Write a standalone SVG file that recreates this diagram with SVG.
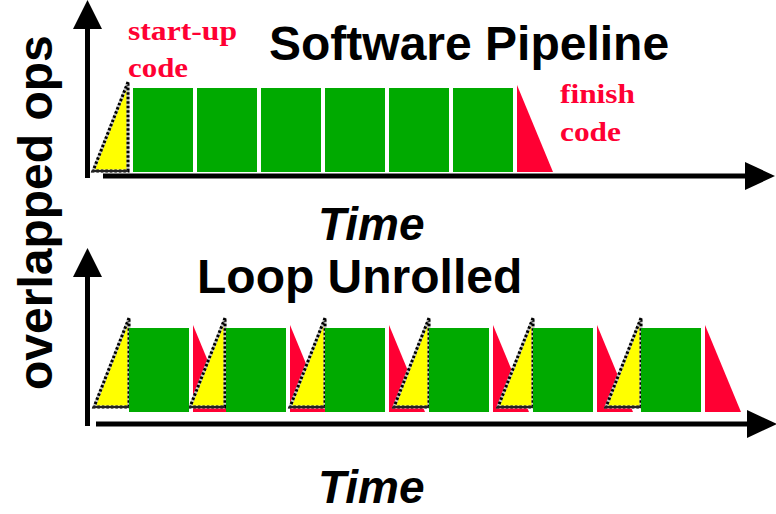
<svg xmlns="http://www.w3.org/2000/svg" width="776" height="514" viewBox="0 0 776 514">
<style>
.title{font-family:"Liberation Sans",Arial,sans-serif;font-weight:bold;font-size:48px;fill:#000}
.time{font-family:"Liberation Sans",Arial,sans-serif;font-weight:bold;font-style:italic;font-size:46px;fill:#000}
.lbl{font-family:"Liberation Serif","Times New Roman",serif;font-weight:bold;font-size:28px;fill:#FF0033}
.g{fill:#00AA00}
.r{fill:#FF0033}
.yb{fill:#FFFF00;stroke:#C8C8C8;stroke-width:3}
.yd{fill:none;stroke:#000;stroke-width:3;stroke-dasharray:2.5 2}
.base{stroke:#222;stroke-width:2}
.axis{stroke:#000;stroke-width:5;fill:none}
.head{fill:#000}
</style>
<defs>
<g id="ytri">
<polygon class="yb" points="0,0 -35,89 0,89"/>
<polygon class="yd" points="0,0 -35,89 0,89"/>
<line class="base" x1="-36" y1="89" x2="0" y2="89"/>
</g>
</defs>
<g id="connectors">
<line class="axis" x1="87.5" y1="178" x2="87.5" y2="25"/>
<polygon class="head" points="87.5,0 73,29 102,29"/>
<line class="axis" x1="103" y1="176" x2="748" y2="176"/>
<polygon class="head" points="775,176 745,162 745,190"/>
<line class="axis" x1="87.5" y1="426" x2="87.5" y2="272"/>
<polygon class="head" points="87.5,248 73,277 102,277"/>
<line class="axis" x1="96" y1="424" x2="750" y2="424"/>
<polygon class="head" points="777,424 747,410 747,438"/>
</g>
<g id="pipeline">
<use href="#ytri" x="128" y="82"/>
<rect class="g" x="133" y="88" width="60" height="84"/>
<rect class="g" x="197" y="88" width="60" height="84"/>
<rect class="g" x="261" y="88" width="60" height="84"/>
<rect class="g" x="325" y="88" width="60" height="84"/>
<rect class="g" x="389" y="88" width="60" height="84"/>
<rect class="g" x="453" y="88" width="60" height="84"/>
<polygon class="r" points="517,85 517,172 553,172"/>
</g>
<g id="unrolled">
<polygon class="r" points="193,325 193,412 229,412"/>
<polygon class="r" points="290,325 290,412 326,412"/>
<polygon class="r" points="389,325 389,412 425,412"/>
<polygon class="r" points="493,325 493,412 529,412"/>
<polygon class="r" points="597,325 597,412 633,412"/>
<polygon class="r" points="705,325 705,412 741,412"/>
<use href="#ytri" x="129" y="318"/>
<use href="#ytri" x="225" y="318"/>
<use href="#ytri" x="325" y="318"/>
<use href="#ytri" x="429" y="318"/>
<use href="#ytri" x="533" y="318"/>
<use href="#ytri" x="641" y="318"/>
<rect class="g" x="129" y="328" width="60" height="84"/>
<rect class="g" x="226" y="328" width="60" height="84"/>
<rect class="g" x="325" y="328" width="60" height="84"/>
<rect class="g" x="429" y="328" width="60" height="84"/>
<rect class="g" x="533" y="328" width="60" height="84"/>
<rect class="g" x="641" y="328" width="60" height="84"/>
</g>
<g id="labels">
<text class="lbl" x="128" y="40" textLength="109" lengthAdjust="spacingAndGlyphs">start-up</text>
<text class="lbl" x="128" y="77" textLength="60" lengthAdjust="spacingAndGlyphs">code</text>
<text class="lbl" x="560" y="103" textLength="75" lengthAdjust="spacingAndGlyphs">finish</text>
<text class="lbl" x="560" y="141" textLength="61" lengthAdjust="spacingAndGlyphs">code</text>
<text class="title" x="269" y="60">Software Pipeline</text>
<text class="time" x="318" y="240">Time</text>
<text class="title" x="197" y="293">Loop Unrolled</text>
<text class="time" x="318" y="503">Time</text>
<text class="title" transform="translate(52,390) rotate(-90)">overlapped ops</text>
</g>
</svg>
